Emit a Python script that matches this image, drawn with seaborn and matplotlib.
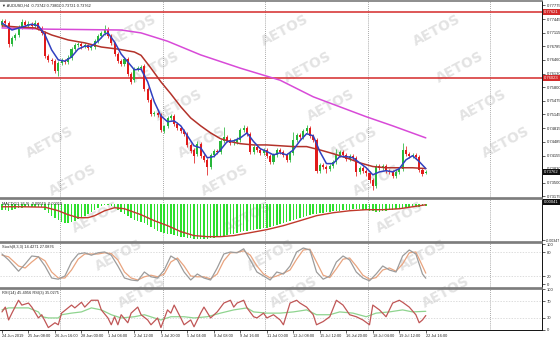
import matplotlib
matplotlib.use("Agg")
import matplotlib.pyplot as plt
import matplotlib.transforms as mtrans
import numpy as np
import pandas as pd
import seaborn as sns

sns.set_theme(style="white")
plt.rcParams['font.family'] = ['Liberation Sans', 'DejaVu Sans']

# ---------------- data ----------------
title_text = "\u25BC AUDUSD,H4  0.73742 0.73802 0.73721 0.73762"

opens = [
 0.7730,0.7740,0.7735,0.7684,0.7699,0.7706,0.7725,0.7737,0.7730,0.7732,
 0.7728,0.7735,0.7723,0.7711,0.7655,0.7646,0.7643,0.7619,0.7638,0.7643,
 0.7641,0.7650,0.7672,0.7682,0.7684,0.7679,0.7682,0.7675,0.7677,0.7691,
 0.7704,0.7711,0.7720,0.7704,0.7687,0.7660,0.7643,0.7636,0.7648,0.7612,
 0.7597,0.7624,0.7626,0.7631,0.7576,0.7549,0.7516,0.7518,0.7513,0.7475,
 0.7487,0.7506,0.7511,0.7492,0.7482,0.7475,0.7468,0.7441,0.7429,0.7420,
 0.7444,0.7415,0.7405,0.7389,0.7417,0.7427,0.7425,0.7451,0.7461,0.7453,
 0.7446,0.7449,0.7453,0.7477,0.7482,0.7468,0.7425,0.7437,0.7429,0.7422,
 0.7429,0.7415,0.7401,0.7417,0.7429,0.7425,0.7417,0.7405,0.7422,0.7453,
 0.7465,0.7461,0.7475,0.7482,0.7463,0.7453,0.7379,0.7393,0.7389,0.7384,
 0.7391,0.7401,0.7417,0.7425,0.7417,0.7408,0.7415,0.7410,0.7376,0.7386,
 0.7379,0.7374,0.7356,0.7342,0.7391,0.7386,0.7391,0.7379,0.7376,0.7367,
 0.7376,0.7384,0.7429,0.7420,0.7415,0.7417,0.7413,0.7381,0.73742]

closes = [
 0.7740,0.7735,0.7684,0.7699,0.7706,0.7725,0.7737,0.7730,0.7732,0.7728,
 0.7735,0.7723,0.7711,0.7655,0.7646,0.7643,0.7619,0.7638,0.7643,0.7641,
 0.7650,0.7672,0.7682,0.7684,0.7679,0.7682,0.7675,0.7677,0.7691,0.7704,
 0.7711,0.7720,0.7704,0.7687,0.7660,0.7643,0.7636,0.7648,0.7612,0.7593,
 0.7624,0.7626,0.7629,0.7576,0.7549,0.7516,0.7518,0.7513,0.7477,0.7487,
 0.7506,0.7511,0.7492,0.7482,0.7475,0.7468,0.7441,0.7427,0.7415,0.7444,
 0.7415,0.7405,0.7389,0.7417,0.7427,0.7425,0.7451,0.7461,0.7453,0.7446,
 0.7449,0.7453,0.7477,0.7482,0.7468,0.7425,0.7437,0.7429,0.7422,0.7429,
 0.7415,0.7401,0.7417,0.7429,0.7425,0.7417,0.7405,0.7422,0.7453,0.7465,
 0.7461,0.7475,0.7482,0.7463,0.7453,0.7379,0.7393,0.7389,0.7384,0.7391,
 0.7401,0.7417,0.7425,0.7417,0.7408,0.7415,0.7410,0.7376,0.7386,0.7379,
 0.7374,0.7356,0.7342,0.7391,0.7386,0.7391,0.7379,0.7376,0.7367,0.7376,
 0.7384,0.7429,0.7420,0.7415,0.7417,0.7413,0.7381,0.7372,0.73762]

highs = [
 0.7744,0.7744,0.7740,0.7704,0.7711,0.7730,0.7744,0.7742,0.7740,0.7737,
 0.7742,0.7737,0.7728,0.7716,0.7660,0.7650,0.7648,0.7643,0.7650,0.7648,
 0.7657,0.7677,0.7687,0.7689,0.7689,0.7687,0.7684,0.7684,0.7696,0.7708,
 0.7716,0.7730,0.7725,0.7708,0.7689,0.7665,0.7648,0.7653,0.7653,0.7617,
 0.7629,0.7631,0.7634,0.7636,0.7581,0.7554,0.7523,0.7523,0.7518,0.7489,
 0.7511,0.7516,0.7516,0.7497,0.7487,0.7480,0.7473,0.7446,0.7434,0.7451,
 0.7449,0.7420,0.7410,0.7422,0.7432,0.7432,0.7456,0.7485,0.7465,0.7458,
 0.7456,0.7461,0.7482,0.7489,0.7487,0.7473,0.7441,0.7441,0.7434,0.7434,
 0.7434,0.7420,0.7422,0.7434,0.7434,0.7429,0.7422,0.7427,0.7473,0.7470,
 0.7470,0.7480,0.7489,0.7487,0.7468,0.7458,0.7398,0.7398,0.7393,0.7396,
 0.7405,0.7432,0.7429,0.7429,0.7422,0.7420,0.7420,0.7415,0.7391,0.7391,
 0.7384,0.7379,0.7362,0.7396,0.7396,0.7396,0.7396,0.7384,0.7381,0.7381,
 0.7389,0.7446,0.7439,0.7425,0.7422,0.7422,0.7417,0.7386,0.73802]

lows = [
 0.7725,0.7730,0.7677,0.7679,0.7694,0.7701,0.7720,0.7725,0.7725,0.7720,
 0.7723,0.7718,0.7706,0.7650,0.7641,0.7636,0.7614,0.7607,0.7634,0.7636,
 0.7636,0.7646,0.7667,0.7677,0.7672,0.7675,0.7670,0.7670,0.7672,0.7687,
 0.7699,0.7706,0.7699,0.7682,0.7655,0.7638,0.7631,0.7631,0.7607,0.7588,
 0.7593,0.7619,0.7622,0.7571,0.7545,0.7511,0.7511,0.7509,0.7473,0.7470,
 0.7482,0.7501,0.7487,0.7477,0.7470,0.7463,0.7437,0.7422,0.7398,0.7415,
 0.7410,0.7401,0.7369,0.7384,0.7413,0.7420,0.7420,0.7446,0.7449,0.7441,
 0.7441,0.7444,0.7449,0.7473,0.7463,0.7420,0.7420,0.7425,0.7417,0.7417,
 0.7410,0.7396,0.7396,0.7413,0.7420,0.7413,0.7401,0.7401,0.7417,0.7449,
 0.7456,0.7456,0.7470,0.7458,0.7449,0.7374,0.7374,0.7384,0.7374,0.7379,
 0.7386,0.7396,0.7413,0.7413,0.7403,0.7403,0.7405,0.7367,0.7372,0.7374,
 0.7367,0.7349,0.7333,0.7337,0.7381,0.7381,0.7374,0.7372,0.7362,0.7362,
 0.7372,0.7379,0.7415,0.7410,0.7410,0.7408,0.7376,0.7365,0.73721]

blue_bars = [0,3,6,9,11,13,15,17,19,21,23,25,27,29,31,32,34,36,38,40,42,44,46,48,50,
             52,54,56,58,60,62,64,66,68,70,72,74,76,78,80,82,84,86,88,90,92,94,96,98,100,
             102,104,106,108,110,112,114,116,118,120,122,124,126,128]
blue_vals = [.7735,.7718,.7725,.7732,.7728,.7706,.7670,.7646,.7643,.7653,.7672,.7679,.7679,.7691,.7708,
             .7711,.7689,.7660,.7641,.7622,.7624,.7593,.7545,.7511,.7497,.7499,.7487,.7463,.7439,.7434,
             .7410,.7413,.7429,.7449,.7451,.7458,.7470,.7449,.7432,.7425,.7417,.7422,.7417,.7429,.7451,
             .7468,.7463,.7425,.7396,.7396,.7413,.7413,.7410,.7398,.7386,.7369,.7376,.7379,.7376,.7384,
             .7405,.7415,.7401,.7384]

red_bars = [0,5,10,15,20,25,30,35,40,42,45,48,51,54,57,60,63,66,69,72,76,80,84,88,92,96,100,
            104,108,112,116,120,124,128]
red_vals = [.7728,.7725,.7723,.7706,.7694,.7687,.7677,.7672,.7665,.7657,.7626,.7593,.7564,.7533,
            .7506,.7487,.7470,.7456,.7449,.7444,.7441,.7441,.7439,.7437,.7437,.7429,.7420,.7410,
            .7398,.7389,.7386,.7386,.7386,.7384]

mag_bars = [0,14,25,36,42,50,60,72,84,94,102,110,118,128]
mag_vals = [.7723,.7720,.7719,.7718,.7711,.7691,.7658,.7626,.7597,.7557,.7533,.7509,.7487,.7458]

level_lines = [0.77621, 0.76023]
last_price = 0.73762
price_ticks = [0.77775,0.77445,0.77115,0.76785,0.76460,0.76130,0.75800,0.75475,
               0.75145,0.74815,0.74485,0.74155,0.73830,0.73500,0.73175]

macd_hist = [
 -0.00057,-0.00057,-0.00067,-0.00057,-0.00048,
 -0.00038,-0.00038,-0.00029,-0.00029,-0.00029,-0.00029,-0.00029,-0.00029,
 -0.00057,-0.00086,-0.00114,-0.00133,-0.00152,
 -0.00171,-0.00181,-0.00181,-0.00171,-0.00162,
 -0.00143,-0.00133,-0.00114,-0.00095,-0.00076,-0.00057,-0.00038,
 -0.00019,-0.00010,-0.00010,-0.00019,-0.00038,
 -0.00057,-0.00076,-0.00095,-0.00114,-0.00133,-0.00152,-0.00162,-0.00171,-0.00181,-0.00200,
 -0.00219,-0.00238,-0.00257,-0.00266,-0.00276,-0.00285,-0.00285,-0.00295,-0.00304,-0.00314,
 -0.00314,-0.00323,-0.00323,-0.00333,-0.00333,
 -0.00333,-0.00333,-0.00333,-0.00323,-0.00323,-0.00314,-0.00304,-0.00304,-0.00295,-0.00285,
 -0.00285,-0.00276,-0.00266,-0.00257,-0.00257,
 -0.00247,-0.00247,-0.00238,-0.00238,-0.00228,-0.00228,-0.00219,-0.00209,-0.00200,-0.00190,
 -0.00181,-0.00171,-0.00162,-0.00152,-0.00143,
 -0.00133,-0.00124,-0.00114,-0.00105,-0.00095,-0.00095,-0.00086,-0.00086,-0.00076,-0.00076,
 -0.00067,-0.00067,-0.00067,-0.00057,-0.00057,
 -0.00057,-0.00048,-0.00048,-0.00048,-0.00057,-0.00057,-0.00067,-0.00067,-0.00076,-0.00076,
 -0.00067,-0.00067,-0.00057,-0.00057,-0.00048,
 -0.00048,-0.00038,-0.00038,-0.00029,-0.00029,-0.00029,-0.00029,-0.00019,-0.00019]

sig_bars = [0,6,13,17,20,23,26,28,31,34,37,42,46,50,54,58,62,66,70,75,80,85,90,95,100,105,
            110,115,120,124,128]
sig_vals = [-0.00029,-0.00029,-0.00033,-0.00067,-0.00105,-0.00133,-0.00133,-0.00114,-0.00067,
            -0.00038,-0.00048,-0.00105,-0.00162,-0.00209,-0.00266,-0.00304,-0.00314,-0.00314,
            -0.00304,-0.00276,-0.00247,-0.00209,-0.00162,-0.00114,-0.00086,-0.00067,-0.00057,
            -0.00057,-0.00048,-0.00029,-0.00010]

stoch_bars = [0,2,5,7,9,11,13,15,17,19,21,23,25,27,29,31,33,35,37,39,41,43,45,47,49,51,53,55,
              57,59,61,63,65,67,69,71,73,75,77,79,81,83,85,87,89,91,93,95,97,99,101,103,105,
              107,109,111,113,115,117,119,121,123,125,127,128]
stoch_k = [75,60,32,50,70,68,45,15,12,20,55,75,78,72,78,80,72,45,15,10,8,30,18,15,35,70,60,30,
           10,25,15,10,40,75,80,78,88,60,30,20,10,30,25,45,80,90,85,30,12,20,55,70,60,30,15,8,
           25,45,35,30,70,85,75,25,14.43]
stoch_d = [72,68,45,40,55,68,58,30,15,15,35,62,75,75,75,78,76,60,30,15,10,18,22,18,25,55,65,45,
           20,18,18,13,25,58,78,79,83,72,45,25,15,20,27,35,62,85,87,55,22,16,38,62,65,45,22,12,
           16,35,40,32,50,78,80,45,27.09]

rsi3_bars = [0,1,2,3,5,6,8,9,11,12,14,16,17,18,21,22,24,25,27,29,30,32,33,34,35,36,38,39,41,42,
             44,45,47,48,50,51,52,54,55,57,58,60,61,63,65,67,69,70,71,73,74,76,77,79,80,82,84,
             85,87,89,90,92,94,95,97,99,101,103,105,107,109,111,112,114,116,118,120,121,123,125,
             126,127,128]
rsi3_vals = [44,56,24,41,73,61,66,56,29,37,5,17,12,41,61,54,68,56,73,73,49,29,12,32,12,37,17,41,
             56,37,24,12,29,5,49,41,61,29,12,24,7,41,56,29,44,66,73,56,66,73,54,32,29,41,29,37,
             24,12,66,73,66,56,37,12,20,32,73,61,37,32,24,12,61,49,32,66,73,68,56,37,17,24,35.03]

rsi14_bars = [0,2,5,8,11,12,14,17,18,21,24,27,30,33,36,40,43,46,48,51,55,58,62,66,70,74,76,80,
              84,88,92,95,99,102,106,110,113,117,121,124,128]
rsi14_vals = [49,54,54,54,44,32,29,29,37,41,44,54,49,37,29,32,37,29,24,32,32,29,32,41,49,54,44,
              41,41,44,49,37,37,44,41,32,41,44,49,44,45.50]

date_bars = [0,8,16,24,32,40,48,56,64,72,80,88,96,104,112,120,128]
date_labels = ["24 Jun 2019","25 Jun 08:00","26 Jun 16:00","28 Jun 00:00","1 Jul 04:00",
               "2 Jul 12:00","3 Jul 20:00","5 Jul 04:00","8 Jul 08:00","9 Jul 16:00",
               "11 Jul 00:00","12 Jul 08:00","15 Jul 12:00","16 Jul 20:00","18 Jul 04:00",
               "19 Jul 12:00","22 Jul 16:00"]
grid_bars = [17.5, 48.5, 79.5, 110.5, 147.5]

# ---------------- layout ----------------
W, H = 560, 339
fig = plt.figure(figsize=(5.6, 3.39), dpi=100)
fig.patch.set_facecolor("white")

def rect(top, bottom, left=0, right=542):
    return [left / W, 1 - bottom / H, (right - left) / W, (bottom - top) / H]

# watermark layer (behind panels)
bg = fig.add_axes([0, 0, 1, 1], zorder=-5)
bg.set_xlim(0, W); bg.set_ylim(H, 0); bg.axis("off")
for k in range(-3, 3):
    for j in range(-1, 10):
        x = 285 + 152 * k + 23 * j
        y = 30 + 37.5 * j
        if 30 < x < 528 and 16 < y < 318:
            bg.text(x, y, "AETOS", rotation=28, fontsize=10, fontweight="bold",
                    color="#e3e3e3", ha="center", va="center", family="DejaVu Sans")

ax1 = fig.add_axes(rect(1, 198))
ax2 = fig.add_axes(rect(199, 242))
ax3 = fig.add_axes(rect(243, 288))
ax4 = fig.add_axes(rect(289, 330))
axes = [ax1, ax2, ax3, ax4]

XL = (-0.6, 163.1)
for ax in axes:
    ax.set_facecolor("none")
    ax.set_xlim(*XL)
    ax.yaxis.tick_right()
    ax.tick_params(axis="y", which="both", labelsize=3, length=2, width=0.5,
                   pad=1.2, colors="#222222", direction="out", right=True, left=False)
    ax.spines["left"].set_visible(False)
    ax.spines["right"].set_color("#111111"); ax.spines["right"].set_linewidth(0.7)
    ax.spines["top"].set_color("#7a7a7a"); ax.spines["top"].set_linewidth(1.2)
    ax.spines["bottom"].set_color("#7a7a7a"); ax.spines["bottom"].set_linewidth(1.2)
    ax.grid(False)
    for b in grid_bars:
        ax.axvline(b, color="#8c8c8c", ls=(0, (1, 1.5)), lw=0.6, zorder=0)
    if ax is not ax4:
        ax.set_xticks([])

# ---------------- main candles ----------------
GREEN = "#27b63a"
RED = "#e11b1b"
o = np.array(opens); c = np.array(closes); h = np.array(highs); l = np.array(lows)
bars = np.arange(len(c))
cols = np.where(c >= o, GREEN, RED)
ax1.vlines(bars, l, h, colors=cols, lw=0.55, zorder=2)
body = np.maximum(np.abs(c - o), 0.00004)
ax1.bar(bars, body, bottom=np.minimum(o, c), width=0.62, color=cols, linewidth=0, zorder=3)

sns.lineplot(x=mag_bars, y=mag_vals, ax=ax1, color="#d84ad8", lw=1.1, legend=False, zorder=4)
sns.lineplot(x=red_bars, y=red_vals, ax=ax1, color="#b3322a", lw=1.1, legend=False, zorder=4)
sns.lineplot(x=blue_bars, y=blue_vals, ax=ax1, color="#3040c0", lw=1.1, legend=False, zorder=5)

for lv in level_lines:
    ax1.axhline(lv, color="#d42a2a", lw=1.1, zorder=1)

ax1.set_ylim(0.73131, 0.77879)
ax1.set_yticks(price_ticks)
ax1.set_yticklabels([f"{v:.5f}" for v in price_ticks])
ax1.set_ylabel(""); ax1.set_xlabel("")
ax1.text(0.004, 0.988, title_text, transform=ax1.transAxes, fontsize=2.8,
         va="top", ha="left", color="#222222")

tr1 = mtrans.blended_transform_factory(ax1.transAxes, ax1.transData)
for lv in level_lines:
    ax1.text(1.004, lv, f"{lv:.5f}", transform=tr1, fontsize=3, color="white",
             va="center", ha="left", bbox=dict(boxstyle="square,pad=0.2", fc="#d42a2a", ec="none"))
ax1.text(1.004, last_price, f"{last_price:.5f}", transform=tr1, fontsize=3, color="white",
         va="center", ha="left", bbox=dict(boxstyle="square,pad=0.2", fc="#111111", ec="none"))

# ---------------- MACD ----------------
ax2.bar(bars, macd_hist, width=0.45, color="#2ee02e", linewidth=0, zorder=2)
sns.lineplot(x=sig_bars, y=sig_vals, ax=ax2, color="#c0392b", lw=1.0, legend=False, zorder=3)
ax2.set_ylim(-0.00365, 0.00045)
ax2.set_yticks([-0.00347]); ax2.set_yticklabels(["-0.00347"])
ax2.tick_params(axis="y", labelsize=2.6, pad=0.6)
ax2.set_ylabel(""); ax2.set_xlabel("")
tr2 = mtrans.blended_transform_factory(ax2.transAxes, ax2.transData)
ax2.text(1.004, 0.00019, "0.00041", transform=tr2, fontsize=3, color="white",
         va="center", ha="left", bbox=dict(boxstyle="square,pad=0.2", fc="#111111", ec="none"))
ax2.text(0.004, 0.93, "MACD(12,26,9) -0.00019 -0.00010", transform=ax2.transAxes,
         fontsize=2.8, va="top", ha="left", color="#222222")

# ---------------- Stochastic ----------------
for lv in (80, 20):
    ax3.axhline(lv, color="#cfcfcf", lw=0.5, ls=(0, (2, 2)), zorder=1)
sns.lineplot(x=stoch_bars, y=stoch_d, ax=ax3, color="#e9a47f", lw=0.9, legend=False, zorder=3)
sns.lineplot(x=stoch_bars, y=stoch_k, ax=ax3, color="#9c9c9c", lw=0.9, legend=False, zorder=4)
ax3.set_ylim(-10, 102.5)
ax3.set_yticks([100, 80, 20, 0]); ax3.set_yticklabels(["100", "80", "20", "0"])
ax3.set_ylabel(""); ax3.set_xlabel("")
ax3.text(0.004, 0.95, "Stoch(8,3,3) 14.4271 27.0876", transform=ax3.transAxes,
         fontsize=2.8, va="top", ha="left", color="#222222")

# ---------------- RSI ----------------
for lv in (70, 30):
    ax4.axhline(lv, color="#cfcfcf", lw=0.5, ls=(0, (2, 2)), zorder=1)
sns.lineplot(x=rsi14_bars, y=rsi14_vals, ax=ax4, color="#8fd48f", lw=0.9, legend=False, zorder=3)
sns.lineplot(x=rsi3_bars, y=rsi3_vals, ax=ax4, color="#c05656", lw=0.9, legend=False, zorder=4)
ax4.set_ylim(-1, 101)
ax4.set_yticks([100, 70, 30, 0]); ax4.set_yticklabels(["100", "70", "30", "0"])
ax4.set_ylabel(""); ax4.set_xlabel("")
ax4.text(0.004, 0.95, "RSI(14) 45.4956 RSI(3) 35.0275", transform=ax4.transAxes,
         fontsize=2.8, va="top", ha="left", color="#222222")
ax4.spines["bottom"].set_color("#111111"); ax4.spines["bottom"].set_linewidth(0.7)
ax4.set_xticks(date_bars)
ax4.set_xticklabels(date_labels, ha="left")
ax4.tick_params(axis="x", labelsize=2.8, length=2, width=0.5, pad=1, colors="#222222",
                direction="out", bottom=True)
ax4.set_xlim(*XL)

fig.savefig("out.png", dpi=100, facecolor="white")
